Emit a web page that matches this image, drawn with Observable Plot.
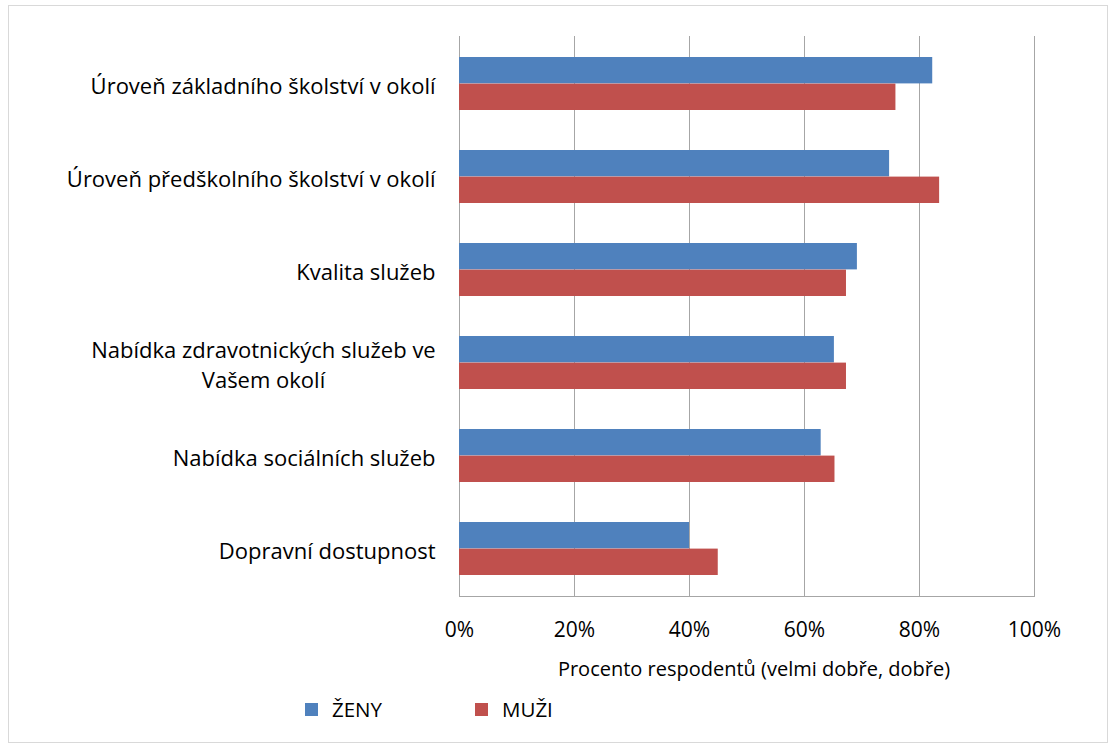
<!DOCTYPE html>
<html>
<head>
<meta charset="utf-8">
<script src="https://cdn.jsdelivr.net/npm/d3@7"></script>
<script src="https://cdn.jsdelivr.net/npm/@observablehq/plot@0.6"></script>
<style>
  html, body { margin: 0; padding: 0; background: #fff; }
  body { width: 1116px; height: 749px; position: relative; overflow: hidden; font-family: "Open Sans", Lato, sans-serif; color: #000; }
  #border { position: absolute; left: 8px; top: 5px; width: 1100px; height: 738px; border: 1px solid #d9d9d9; box-sizing: border-box; }
  #chart { position: absolute; left: 0; top: 0; }
  #xtitle { position: absolute; left: 459px; width: 590px; top: 656px; text-align: center; font-size: 20px; line-height: 26px; }
  .leg { position: absolute; top: 696px; display: flex; align-items: center; font-size: 20.5px; line-height: 26px; }
  .sw { width: 13px; height: 13px; margin-right: 14px; }
</style>
</head>
<body>
<div id="border"></div>
<div id="chart"></div>
<div id="xtitle"></div>
<div id="legend"></div>
<script>
// ---- data ----
const categories = [
  "Úroveň základního školství v okolí",
  "Úroveň předškolního školství v okolí",
  "Kvalita služeb",
  "Nabídka zdravotnických služeb ve\nVašem okolí",
  "Nabídka sociálních služeb",
  "Dopravní dostupnost"
];
const seriesNames = ["ŽENY", "MUŽI"];
const zeny = [82.3, 74.8, 69.2, 65.2, 62.9, 40.0];
const muzi = [75.9, 83.5, 67.3, 67.3, 65.3, 45.0];
const xTicks = [0, 20, 40, 60, 80, 100];
const xTitle = "Procento respodentů (velmi dobře, dobře)";
const colors = ["#4f81bd", "#c0504d"];

// ---- layout ----
const W = 1116, H = 650, mT = 36, mB = 54, mL = 459, mR = 82;
const padIn = 0.43, padOut = 0.215;
const bw = d3.scaleBand().domain(categories).range([mT, H - mB])
  .paddingInner(padIn).paddingOuter(padOut).bandwidth();

const rowsZ = categories.map((c, i) => ({category: c, series: seriesNames[0], value: zeny[i]}));
const rowsM = categories.map((c, i) => ({category: c, series: seriesNames[1], value: muzi[i]}));

const chart = Plot.plot({
  width: W, height: H,
  marginTop: mT, marginBottom: mB, marginLeft: mL, marginRight: mR,
  style: { fontFamily: "'Open Sans', Lato, sans-serif", fontSize: "20px", color: "#000", background: "transparent" },
  x: { domain: [0, 100] },
  y: { domain: categories, paddingInner: padIn, paddingOuter: padOut },
  color: { domain: seriesNames, range: colors },
  marks: [
    Plot.ruleX(xTicks, { stroke: "#a6a6a6", strokeWidth: 1 }),
    Plot.frame({ anchor: "bottom", stroke: "#a6a6a6" }),
    Plot.barX(rowsZ, { x: "value", y: "category", fill: "series", insetBottom: bw / 2 }),
    Plot.barX(rowsM, { x: "value", y: "category", fill: "series", insetTop: bw / 2 }),
    Plot.axisX({ ticks: xTicks, tickSize: 0, tickPadding: 26, tickFormat: d => d + "%", label: null, fontSize: 21 }),
    Plot.axisY({ tickSize: 0, tickPadding: 24, label: null, fontSize: 22, lineHeight: 1.36 })
  ]
});
document.getElementById("chart").appendChild(chart);

// center multi-line y labels relative to each other (as in the original)
chart.querySelectorAll("text").forEach(t => {
  const spans = t.querySelectorAll("tspan");
  if (spans.length > 1) {
    const b = t.getBBox();
    const cx = b.x + b.width / 2;
    t.setAttribute("text-anchor", "middle");
    spans.forEach(s => s.setAttribute("x", cx));
  }
});

document.getElementById("xtitle").textContent = xTitle;

// legend
const legendLeft = [305, 475];
const legend = document.getElementById("legend");
seriesNames.forEach((name, i) => {
  const item = document.createElement("div");
  item.className = "leg";
  item.style.left = legendLeft[i] + "px";
  const sw = document.createElement("div");
  sw.className = "sw";
  sw.style.background = colors[i];
  const lab = document.createElement("span");
  lab.textContent = name;
  item.appendChild(sw); item.appendChild(lab);
  legend.appendChild(item);
});
</script>
</body>
</html>
